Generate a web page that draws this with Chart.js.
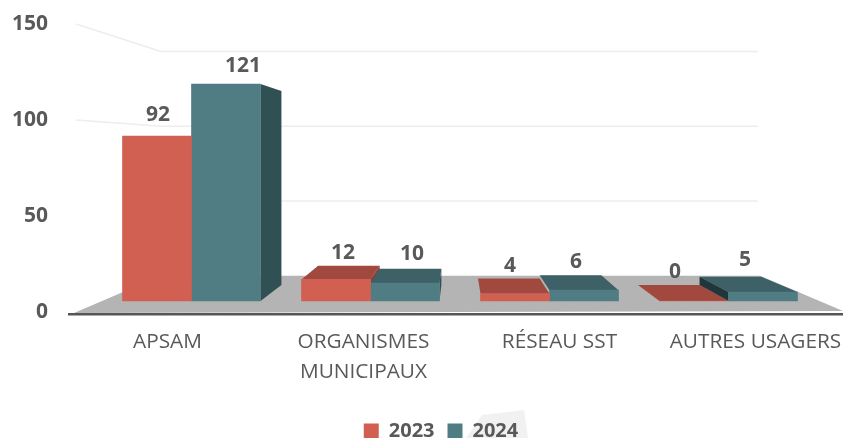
<!DOCTYPE html>
<html lang="fr">
<head>
<meta charset="utf-8">
<title>2023 / 2024</title>
<script src="https://cdn.jsdelivr.net/npm/chart.js@4"></script>
<style>
  html, body { margin: 0; padding: 0; background: #fff; overflow: hidden; }
  #wrap { width: 843px; height: 438px; }
  canvas { filter: blur(0.5px); }
</style>
</head>
<body>
<div id="wrap"><canvas id="barChart"></canvas></div>
<script>
const categories = ['APSAM', ['ORGANISMES', 'MUNICIPAUX'], 'RÉSEAU SST', 'AUTRES USAGERS'];
const values2023 = [92, 12, 4, 0];
const values2024 = [121, 10, 6, 5];
const yTicks = [0, 50, 100, 150];
const wallTicks = [50, 100, 150];
const sideWallTicks = [100, 150];

const textColor = '#595959';
const fontFamily = '"Open Sans", sans-serif';

// couleurs des faces 3D : face avant, dessus, côté
const redFaces = { front: '#D16052', top: '#A2493F', side: '#8A3E36' };
const tealFaces = { front: '#507D84', top: '#3D6166', side: '#315054' };
const seriesFaces = [redFaces, tealFaces];

// point de fuite de la perspective
const vanish = { x: 457, y: 150, k: 0.1065 };

function toBack(x, y) {
  return [x + (vanish.x - x) * vanish.k, y + (vanish.y - y) * vanish.k];
}

function fillPoly(ctx, points, color) {
  ctx.fillStyle = color;
  ctx.beginPath();
  points.forEach((p, i) => (i ? ctx.lineTo(p[0], p[1]) : ctx.moveTo(p[0], p[1])));
  ctx.closePath();
  ctx.fill();
}

// sol, lignes du fond et ligne de base
const stagePlugin = {
  id: 'stage',
  beforeDraw(chart) {
    // tache claire derrière la légende
    fillPoly(chart.ctx, [[482, 415], [524, 410], [528, 438], [466, 438]], '#F1F1F1');
  },
  beforeDatasetsDraw(chart) {
    const { ctx, scales } = chart;
    const wall = scales.yWall;
    const labelAxis = scales.yLabels;
    const backLeft = 161;
    const backRight = 758;
    const floorBack = wall.getPixelForValue(0);
    const floorFront = chart.chartArea.bottom - 1;

    ctx.save();
    ctx.strokeStyle = '#EFECEE';
    ctx.lineWidth = 1.5;
    wallTicks.forEach((v) => {
      const y = wall.getPixelForValue(v);
      ctx.beginPath();
      ctx.moveTo(backLeft, y);
      ctx.lineTo(backRight, y);
      ctx.stroke();
    });
    sideWallTicks.forEach((v) => {
      ctx.beginPath();
      ctx.moveTo(76, labelAxis.getPixelForValue(v));
      ctx.lineTo(backLeft, wall.getPixelForValue(v));
      ctx.stroke();
    });

    fillPoly(ctx, [[backLeft, floorBack], [backRight + 2, floorBack], [843, floorFront - 2], [74, floorFront]], '#B4B4B4');

    ctx.fillStyle = '#565656';
    ctx.fillRect(68, floorFront, 775, 2.5);

    // faces arrière des barres
    chart.data.datasets.forEach((ds, di) => {
      const faces = seriesFaces[di];
      chart.getDatasetMeta(di).data.forEach((bar) => {
        const left = bar.x - bar.width / 2;
        const right = bar.x + bar.width / 2;
        const top = bar.y;
        const bottom = bar.base;
        if (top > vanish.y) {
          fillPoly(ctx, [[left, top], toBack(left, top), toBack(right, top), [right, top]], faces.top);
        }
        if (right < vanish.x) {
          fillPoly(ctx, [[right, top], toBack(right, top), toBack(right, bottom), [right, bottom]], faces.side);
        }
        // côté gauche visible seulement loin du point de fuite
        if (left - vanish.x > 150 && bottom - top > 1) {
          fillPoly(ctx, [[left, top], toBack(left, top), toBack(left, bottom), [left, bottom]], '#1F373B');
        }
      });
    });
    ctx.restore();
  },
  afterLayout(chart) {
    // légende décalée comme sur l'original
    chart.legend.top += 13;
    chart.legend.bottom += 13;
    chart.legend.left += 32;
    chart.legend.right += 32;
  },
};

// valeurs au-dessus des barres
const valueLabelPlugin = {
  id: 'valueLabels',
  afterDatasetsDraw(chart, args, opts) {
    const { ctx } = chart;
    ctx.save();
    ctx.font = 'bold 21px ' + fontFamily;
    ctx.fillStyle = textColor;
    ctx.textAlign = 'center';
    ctx.textBaseline = 'middle';
    chart.data.datasets.forEach((ds, di) => {
      chart.getDatasetMeta(di).data.forEach((bar, i) => {
        const shift = opts.shifts[di][i];
        ctx.fillText(ds.data[i], bar.x + shift[0], bar.y + shift[1]);
      });
    });
    ctx.restore();
  },
};

new Chart(document.getElementById('barChart'), {
  type: 'bar',
  data: {
    labels: categories,
    datasets: [
      { label: '2023', data: values2023, backgroundColor: redFaces.front, barThickness: 69 },
      { label: '2024', data: values2024, backgroundColor: tealFaces.front, barThickness: 69 },
    ],
  },
  plugins: [stagePlugin, valueLabelPlugin],
  options: {
    responsive: true,
    maintainAspectRatio: false,
    animation: false,
    layout: { padding: { top: 16, right: 25, left: 0, bottom: 0 } },
    plugins: {
      tooltip: { enabled: false },
      legend: {
        position: 'bottom',
        onClick: null,
        labels: {
          boxWidth: 15,
          boxHeight: 15,
          padding: 13,
          color: textColor,
          font: { family: fontFamily, size: 20, weight: 'bold' },
        },
      },
      valueLabels: {
        shifts: [
          [[1, -21], [7, -26], [-5, -28], [-19, -29]],
          [[17, -18], [7, -29], [-8, -28], [-18, -32]],
        ],
      },
    },
    scales: {
      x: { display: false, offset: true, grid: { display: false } },
      // étiquettes plus espacées que les barres
      xLabels: {
        type: 'linear',
        position: 'bottom',
        offset: false,
        min: -0.334,
        max: 3.319,
        grid: { display: false, drawTicks: false, offset: false },
        border: { display: false },
        ticks: {
          color: textColor,
          padding: 13,
          maxRotation: 0,
          autoSkip: false,
          font: { family: fontFamily, size: 20.8, lineHeight: 1.44 },
          callback: (value) => categories[value],
        },
        afterBuildTicks(axis) {
          axis.ticks = categories.map((c, i) => ({ value: i }));
        },
        afterFit(axis) {
          axis.height = 81;
          axis.paddingLeft = 0;
          axis.paddingRight = 0;
        },
      },
      y: { display: false, min: -7.27, max: 158.9, grid: { display: false } },
      yWall: { display: false, min: -25.5, max: 173.8, grid: { display: false } },
      yLabels: {
        position: 'left',
        min: -1.05,
        max: 154.2,
        grid: { display: false, drawTicks: false },
        border: { display: false },
        ticks: {
          color: textColor,
          padding: 54,
          font: { family: fontFamily, size: 21, weight: 'bold' },
        },
        afterBuildTicks(axis) {
          axis.ticks = yTicks.map((v) => ({ value: v }));
        },
        afterFit(axis) {
          axis.width = 102;
          axis.paddingTop = 0;
          axis.paddingBottom = 0;
        },
      },
    },
  },
});
</script>
</body>
</html>
